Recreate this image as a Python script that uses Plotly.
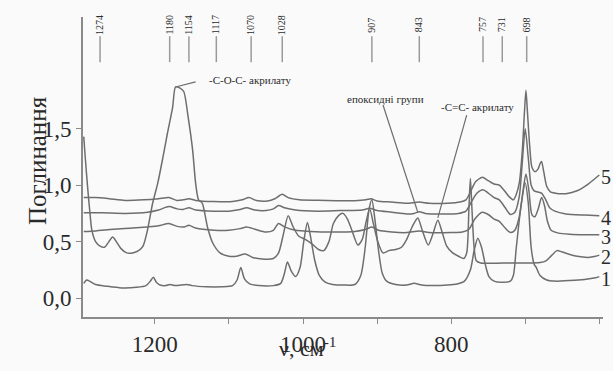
import plotly.graph_objects as go

# IR absorption spectra of five samples (wavenumber, cm-1 -> absorbance)
nu1 = [1296, 1292, 1288, 1280, 1265, 1245, 1225, 1212, 1206, 1202, 1198, 1193, 1185, 1180, 1172,
       1157, 1150, 1130, 1110, 1095, 1089, 1084, 1079, 1072, 1060, 1040, 1030, 1025, 1021, 1016,
       1010, 1004, 999, 994, 990, 984, 978, 970, 960, 945, 930, 922, 916, 911, 907, 903, 898, 893,
       887, 875, 860, 850, 840, 825, 805, 792, 782, 774, 769, 764, 759, 754, 749, 742, 730, 720,
       716, 712, 706, 700, 696, 692, 688, 685, 680, 671, 660, 640, 620, 605, 600]
a1 = [0.13, 0.16, 0.15, 0.12, 0.105, 0.09, 0.095, 0.11, 0.15, 0.185, 0.14, 0.115, 0.11, 0.12, 0.11,
      0.12, 0.11, 0.10, 0.10, 0.11, 0.16, 0.27, 0.17, 0.125, 0.11, 0.11, 0.13, 0.22, 0.32, 0.24,
      0.19, 0.27, 0.50, 0.67, 0.55, 0.33, 0.20, 0.14, 0.12, 0.115, 0.12, 0.20, 0.45, 0.78, 0.87, 0.70, 0.42, 0.22,
      0.15, 0.12, 0.115, 0.13, 0.115, 0.11, 0.115, 0.125, 0.15, 0.25, 0.42, 0.53, 0.45, 0.30, 0.19, 0.15, 0.14, 0.15,
      0.20, 0.45, 0.80, 1.02, 0.85, 0.45, 0.30, 0.27, 0.20, 0.16, 0.15, 0.155, 0.165, 0.18, 0.19]

nu2 = [1296, 1294, 1291, 1288, 1285, 1280, 1274, 1268, 1262, 1257, 1252, 1246, 1238, 1230, 1222,
       1216, 1210, 1203, 1196, 1189, 1183, 1176, 1172, 1166, 1161, 1155, 1149, 1145, 1141, 1136,
       1129, 1122, 1112, 1100, 1090, 1078, 1068, 1055, 1040, 1033, 1027, 1020, 1014, 1006, 997,
       988, 979, 972, 965, 959, 952, 946, 940, 934, 926, 920, 915, 910, 905, 899, 892, 884, 875,
       867, 860, 852, 845, 839, 831, 825, 818, 812, 806, 798, 790, 783, 779, 776, 774, 772, 769,
       766, 760, 730, 700, 680, 672, 664, 657, 651, 642, 630, 615, 605, 600]
a2 = [1.43, 1.25, 1.00, 0.78, 0.60, 0.50, 0.46, 0.45, 0.50, 0.54, 0.50, 0.44, 0.40, 0.40, 0.42,
      0.46, 0.60, 0.84, 1.02, 1.25, 1.46, 1.69, 1.87, 1.86, 1.83, 1.60, 1.31, 1.02, 0.87, 0.84,
      0.63, 0.49, 0.40, 0.37, 0.37, 0.39, 0.36, 0.345, 0.35, 0.40, 0.55, 0.73, 0.64, 0.55, 0.52,
      0.48, 0.43, 0.42, 0.50, 0.66, 0.73, 0.75, 0.70, 0.60, 0.47, 0.52, 0.67, 0.79, 0.66, 0.50, 0.40, 0.42, 0.43,
      0.45, 0.52, 0.64, 0.71, 0.60, 0.47, 0.56, 0.69, 0.58, 0.46, 0.40, 0.37, 0.35, 0.40, 0.80, 1.06, 0.80, 0.45,
      0.33, 0.31, 0.31, 0.31, 0.315, 0.33, 0.38, 0.42, 0.41, 0.39, 0.37, 0.36, 0.37, 0.38]

nu3 = [1296, 1280, 1256, 1230, 1210, 1195, 1181, 1170, 1160, 1154, 1145, 1120, 1100, 1085, 1076,
       1065, 1050, 1040, 1033, 1025, 1010, 990, 960, 930, 915, 907, 898, 880, 860, 843, 830, 800,
       785, 776, 768, 758, 750, 742, 735, 727, 720, 714, 708, 703, 699, 695, 691, 687, 682, 678,
       674, 670, 665, 655, 640, 620, 600]
a3 = [0.59, 0.595, 0.61, 0.62, 0.63, 0.64, 0.66, 0.635, 0.63, 0.645, 0.62, 0.60, 0.60, 0.615, 0.63,
      0.61, 0.585, 0.60, 0.66, 0.63, 0.60, 0.59, 0.585, 0.59, 0.61, 0.63, 0.60, 0.585, 0.58, 0.595, 0.58, 0.58,
      0.585, 0.61, 0.70, 0.76, 0.74, 0.70, 0.68, 0.62, 0.58, 0.60, 0.72, 0.95, 1.10, 0.95, 0.74, 0.72, 0.80, 0.89,
      0.82, 0.68, 0.60, 0.575, 0.565, 0.56, 0.56]

nu4 = [1296, 1270, 1240, 1210, 1195, 1181, 1170, 1162, 1154, 1145, 1120, 1100, 1085, 1076, 1065,
       1050, 1040, 1033, 1025, 1010, 980, 950, 920, 910, 900, 880, 860, 850, 843, 835, 810, 790,
       780, 772, 765, 757, 750, 742, 735, 727, 720, 714, 708, 704, 700, 696, 692, 688, 683, 678,
       673, 667, 660, 645, 620, 600]
a4 = [0.755, 0.755, 0.75, 0.76, 0.78, 0.81, 0.79, 0.785, 0.80, 0.78, 0.77, 0.77, 0.785, 0.80, 0.78,
      0.775, 0.79, 0.82, 0.80, 0.78, 0.77, 0.775, 0.78, 0.795, 0.775, 0.76, 0.745, 0.75, 0.765, 0.75, 0.745, 0.75,
      0.77, 0.86, 0.93, 0.96, 0.93, 0.89, 0.87, 0.80, 0.74, 0.76, 0.90, 1.20, 1.50, 1.25, 1.00, 0.95, 0.94, 0.93,
      0.88, 0.80, 0.77, 0.745, 0.735, 0.73]

nu5 = [1296, 1280, 1262, 1240, 1215, 1195, 1181, 1170, 1162, 1154, 1145, 1120, 1095, 1082, 1073,
       1063, 1048, 1038, 1028, 1020, 1005, 980, 955, 930, 915, 908, 900, 880, 860, 843, 830, 805,
       788, 780, 774, 767, 758, 750, 742, 735, 728, 722, 716, 712, 708, 704, 701, 699, 697, 694,
       691, 687, 683, 680, 678, 675, 671, 666, 655, 645, 630, 615, 600]
a5 = [0.89, 0.89, 0.88, 0.865, 0.87, 0.88, 0.89, 0.865, 0.87, 0.88, 0.865, 0.855, 0.855, 0.87, 0.89,
      0.865, 0.86, 0.88, 0.92, 0.89, 0.87, 0.866, 0.862, 0.862, 0.87, 0.88, 0.86, 0.85, 0.84, 0.85, 0.84, 0.84,
      0.85, 0.87, 0.94, 1.03, 1.07, 1.04, 1.01, 1.00, 0.95, 0.90, 0.87, 0.92, 1.02, 1.30, 1.65, 1.84, 1.65, 1.35,
      1.16, 1.12, 1.14, 1.19, 1.21, 1.12, 0.99, 0.94, 0.925, 0.925, 0.95, 1.01, 1.09]

curve_names = ["1", "2", "3", "4", "5"]

# characteristic band positions marked along the top
band_marks = [1274, 1180, 1154, 1117, 1070, 1028, 907, 843, 757, 731, 698]

# assigned bands: (text, label x, label y, line start (x, y), line end (x, y))
feature_text = ["-C-O-C- акрилату", "епоксидні групи", "-C=C- акрилату"]
feature_label_pos = [(1129, 1.93), (889, 1.765), (765, 1.69)]
feature_line_from = [(1172, 1.87), (892, 1.71), (779, 1.62)]
feature_line_to = [(1145, 1.915), (845, 0.76), (818, 0.71)]

line_color = "#6e6e6e"
text_color = "#2a2a2a"
serif = "Liberation Serif, Times New Roman, serif"

fig = go.Figure()
series = [(nu1, a1), (nu2, a2), (nu3, a3), (nu4, a4), (nu5, a5)]
for name, (nu, a) in zip(curve_names, series):
    fig.add_trace(go.Scatter(
        x=nu, y=a, mode="lines", name=name,
        line=dict(color=line_color, width=1.5, shape="spline", smoothing=0.7),
        showlegend=False, hoverinfo="skip",
    ))

# curve numbers at the right end of each spectrum
for name, (nu, a) in zip(curve_names, series):
    fig.add_annotation(
        x=1.0, xref="paper", y=a[-1] - 0.02, yref="y",
        text=name, showarrow=False, xanchor="left", xshift=-4,
        font=dict(family=serif, size=20, color=text_color),
    )

# band position markers
for b in band_marks:
    fig.add_shape(type="line", x0=b, x1=b, y0=2.09, y1=2.32, xref="x", yref="y",
                  line=dict(color="#9a9a9a", width=1.5))
    fig.add_annotation(x=b, y=2.42, text=str(b), showarrow=False, textangle=-90,
                       font=dict(family=serif, size=10, color=text_color))

# band assignment labels with leader lines
for txt, (lx, ly), (x0, y0), (x1, y1), anchor in zip(
        feature_text, feature_label_pos, feature_line_from, feature_line_to,
        ["left", "center", "center"]):
    fig.add_shape(type="line", x0=x0, y0=y0, x1=x1, y1=y1, xref="x", yref="y",
                  line=dict(color=line_color, width=1.2))
    fig.add_annotation(x=lx, y=ly, text=txt, showarrow=False, xanchor=anchor,
                       font=dict(family=serif, size=11, color=text_color))

# axis titles
fig.add_annotation(x=-0.117, xref="paper", y=1.22, yref="y", text="Поглинання",
                   textangle=-90, showarrow=False,
                   font=dict(family=serif, size=25, color=text_color))
fig.add_annotation(x=994, xref="x", y=-0.152, yref="paper", text="ν, см<sup>-1</sup>",
                   showarrow=False, font=dict(family=serif, size=22, color=text_color))

fig.update_layout(
    width=613, height=371,
    margin=dict(l=83, r=10, t=17, b=54, autoexpand=False),
    paper_bgcolor="#fafafa", plot_bgcolor="#fafafa",
    separators=", ",
    font=dict(family=serif, size=23, color=text_color),
)
fig.update_xaxes(
    range=[1297, 595], showgrid=False, zeroline=False, automargin=False,
    showline=True, linecolor="#8a8a8a", linewidth=1.8,
    ticks="outside", ticklen=5, tickwidth=1.3, tickcolor="#8a8a8a",
    tickvals=[1200, 1000, 800, 600],
    minor=dict(tickvals=[1100, 900, 700], ticks="outside", ticklen=5,
               tickwidth=1.3, tickcolor="#8a8a8a", showgrid=False),
)
fig.update_yaxes(
    range=[-0.168, 2.49], showgrid=False, zeroline=False, automargin=False,
    showline=True, linecolor="#8a8a8a", linewidth=1.8,
    ticks="outside", ticklen=5, tickwidth=1.3, tickcolor="#8a8a8a",
    tickvals=[0, 0.5, 1.0, 1.5], tickformat=".1f",
)

fig.write_html("out.html")
